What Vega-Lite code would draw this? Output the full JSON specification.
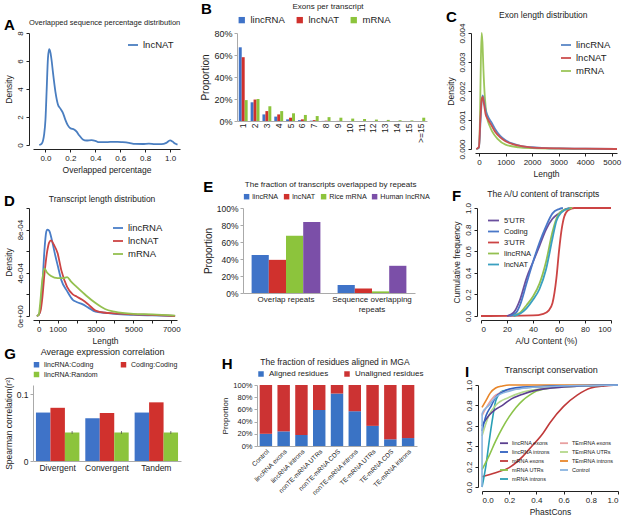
{
  "$schema": "https://vega.github.io/schema/vega-lite/v6.json",
  "background": "white",
  "padding": {"left": 4, "top": 2, "right": 2, "bottom": 0},
  "datasets": {
    "a": [
      {"x": -0.05, "y": 0, "s": "lncNAT"}, {"x": -0.03, "y": 0.1, "s": "lncNAT"}, {"x": -0.01, "y": 0.8, "s": "lncNAT"},
      {"x": 0.0, "y": 1.8, "s": "lncNAT"}, {"x": 0.01, "y": 4.0, "s": "lncNAT"}, {"x": 0.02, "y": 6.2, "s": "lncNAT"},
      {"x": 0.03, "y": 6.85, "s": "lncNAT"}, {"x": 0.04, "y": 6.6, "s": "lncNAT"}, {"x": 0.05, "y": 6.0, "s": "lncNAT"},
      {"x": 0.06, "y": 5.2, "s": "lncNAT"}, {"x": 0.08, "y": 3.8, "s": "lncNAT"}, {"x": 0.1, "y": 2.9, "s": "lncNAT"},
      {"x": 0.12, "y": 2.6, "s": "lncNAT"}, {"x": 0.14, "y": 2.3, "s": "lncNAT"}, {"x": 0.16, "y": 1.8, "s": "lncNAT"},
      {"x": 0.18, "y": 1.4, "s": "lncNAT"}, {"x": 0.2, "y": 1.2, "s": "lncNAT"}, {"x": 0.23, "y": 1.1, "s": "lncNAT"},
      {"x": 0.25, "y": 0.95, "s": "lncNAT"}, {"x": 0.27, "y": 0.7, "s": "lncNAT"}, {"x": 0.3, "y": 0.4, "s": "lncNAT"},
      {"x": 0.33, "y": 0.32, "s": "lncNAT"}, {"x": 0.37, "y": 0.35, "s": "lncNAT"}, {"x": 0.4, "y": 0.3, "s": "lncNAT"},
      {"x": 0.43, "y": 0.2, "s": "lncNAT"}, {"x": 0.47, "y": 0.2, "s": "lncNAT"}, {"x": 0.52, "y": 0.22, "s": "lncNAT"},
      {"x": 0.58, "y": 0.23, "s": "lncNAT"}, {"x": 0.62, "y": 0.2, "s": "lncNAT"}, {"x": 0.67, "y": 0.15, "s": "lncNAT"},
      {"x": 0.72, "y": 0.08, "s": "lncNAT"}, {"x": 0.78, "y": 0.07, "s": "lncNAT"}, {"x": 0.83, "y": 0.1, "s": "lncNAT"},
      {"x": 0.88, "y": 0.06, "s": "lncNAT"}, {"x": 0.93, "y": 0.06, "s": "lncNAT"}, {"x": 0.97, "y": 0.15, "s": "lncNAT"},
      {"x": 1.0, "y": 0.33, "s": "lncNAT"}, {"x": 1.02, "y": 0.25, "s": "lncNAT"}, {"x": 1.04, "y": 0.1, "s": "lncNAT"},
      {"x": 1.06, "y": 0.02, "s": "lncNAT"}
    ],
    "b": [
      {"bin": "1", "series": "lincRNA", "value": 0.67}, {"bin": "1", "series": "lncNAT", "value": 0.58}, {"bin": "1", "series": "mRNA", "value": 0.19},
      {"bin": "2", "series": "lincRNA", "value": 0.17}, {"bin": "2", "series": "lncNAT", "value": 0.195}, {"bin": "2", "series": "mRNA", "value": 0.2},
      {"bin": "3", "series": "lincRNA", "value": 0.06}, {"bin": "3", "series": "lncNAT", "value": 0.09}, {"bin": "3", "series": "mRNA", "value": 0.135},
      {"bin": "4", "series": "lincRNA", "value": 0.04}, {"bin": "4", "series": "lncNAT", "value": 0.06}, {"bin": "4", "series": "mRNA", "value": 0.09},
      {"bin": "5", "series": "lincRNA", "value": 0.015}, {"bin": "5", "series": "lncNAT", "value": 0.03}, {"bin": "5", "series": "mRNA", "value": 0.07},
      {"bin": "6", "series": "lincRNA", "value": 0.008}, {"bin": "6", "series": "lncNAT", "value": 0.015}, {"bin": "6", "series": "mRNA", "value": 0.055},
      {"bin": "7", "series": "lincRNA", "value": 0.003}, {"bin": "7", "series": "lncNAT", "value": 0.008}, {"bin": "7", "series": "mRNA", "value": 0.045},
      {"bin": "8", "series": "lincRNA", "value": 0.001}, {"bin": "8", "series": "lncNAT", "value": 0.003}, {"bin": "8", "series": "mRNA", "value": 0.035},
      {"bin": "9", "series": "lincRNA", "value": 0}, {"bin": "9", "series": "lncNAT", "value": 0.001}, {"bin": "9", "series": "mRNA", "value": 0.03},
      {"bin": "10", "series": "lincRNA", "value": 0}, {"bin": "10", "series": "lncNAT", "value": 0}, {"bin": "10", "series": "mRNA", "value": 0.022},
      {"bin": "11", "series": "lincRNA", "value": 0}, {"bin": "11", "series": "lncNAT", "value": 0}, {"bin": "11", "series": "mRNA", "value": 0.018},
      {"bin": "12", "series": "lincRNA", "value": 0}, {"bin": "12", "series": "lncNAT", "value": 0}, {"bin": "12", "series": "mRNA", "value": 0.013},
      {"bin": "13", "series": "lincRNA", "value": 0}, {"bin": "13", "series": "lncNAT", "value": 0}, {"bin": "13", "series": "mRNA", "value": 0.01},
      {"bin": "14", "series": "lincRNA", "value": 0}, {"bin": "14", "series": "lncNAT", "value": 0}, {"bin": "14", "series": "mRNA", "value": 0.007},
      {"bin": "15", "series": "lincRNA", "value": 0}, {"bin": "15", "series": "lncNAT", "value": 0}, {"bin": "15", "series": "mRNA", "value": 0.005},
      {"bin": ">=15", "series": "lincRNA", "value": 0}, {"bin": ">=15", "series": "lncNAT", "value": 0}, {"bin": ">=15", "series": "mRNA", "value": 0.03}
    ],
    "c": [
      {"x": -100, "y": 0, "s": "mRNA"}, {"x": 0, "y": 0.00005, "s": "mRNA"}, {"x": 40, "y": 0.0012, "s": "mRNA"},
      {"x": 70, "y": 0.003, "s": "mRNA"}, {"x": 100, "y": 0.004, "s": "mRNA"}, {"x": 130, "y": 0.0037, "s": "mRNA"},
      {"x": 170, "y": 0.0027, "s": "mRNA"}, {"x": 220, "y": 0.0018, "s": "mRNA"}, {"x": 300, "y": 0.0011, "s": "mRNA"},
      {"x": 400, "y": 0.0008, "s": "mRNA"}, {"x": 500, "y": 0.0006, "s": "mRNA"}, {"x": 700, "y": 0.00035, "s": "mRNA"},
      {"x": 1000, "y": 0.00015, "s": "mRNA"}, {"x": 1500, "y": 0.00006, "s": "mRNA"}, {"x": 2000, "y": 0.00003, "s": "mRNA"},
      {"x": 3000, "y": 0.00001, "s": "mRNA"}, {"x": 4000, "y": 0.000005, "s": "mRNA"}, {"x": 5200, "y": 0, "s": "mRNA"},
      {"x": -100, "y": 0, "s": "lincRNA"}, {"x": 0, "y": 0.00005, "s": "lincRNA"}, {"x": 50, "y": 0.0008, "s": "lincRNA"},
      {"x": 100, "y": 0.0016, "s": "lincRNA"}, {"x": 140, "y": 0.00185, "s": "lincRNA"}, {"x": 180, "y": 0.0017, "s": "lincRNA"},
      {"x": 250, "y": 0.00135, "s": "lincRNA"}, {"x": 350, "y": 0.0011, "s": "lincRNA"}, {"x": 450, "y": 0.00095, "s": "lincRNA"},
      {"x": 600, "y": 0.0007, "s": "lincRNA"}, {"x": 800, "y": 0.00045, "s": "lincRNA"}, {"x": 1000, "y": 0.0003, "s": "lincRNA"},
      {"x": 1300, "y": 0.00018, "s": "lincRNA"}, {"x": 1600, "y": 0.0001, "s": "lincRNA"}, {"x": 2000, "y": 0.00006, "s": "lincRNA"},
      {"x": 2500, "y": 0.00003, "s": "lincRNA"}, {"x": 3000, "y": 0.00002, "s": "lincRNA"}, {"x": 4000, "y": 0.00001, "s": "lincRNA"},
      {"x": 5200, "y": 0, "s": "lincRNA"},
      {"x": -100, "y": 0, "s": "lncNAT"}, {"x": 0, "y": 0.00008, "s": "lncNAT"}, {"x": 50, "y": 0.001, "s": "lncNAT"},
      {"x": 100, "y": 0.0017, "s": "lncNAT"}, {"x": 140, "y": 0.0018, "s": "lncNAT"}, {"x": 180, "y": 0.0016, "s": "lncNAT"},
      {"x": 250, "y": 0.0012, "s": "lncNAT"}, {"x": 350, "y": 0.001, "s": "lncNAT"}, {"x": 450, "y": 0.00085, "s": "lncNAT"},
      {"x": 600, "y": 0.0006, "s": "lncNAT"}, {"x": 800, "y": 0.0004, "s": "lncNAT"}, {"x": 1000, "y": 0.00027, "s": "lncNAT"},
      {"x": 1300, "y": 0.00016, "s": "lncNAT"}, {"x": 1600, "y": 0.0001, "s": "lncNAT"}, {"x": 2000, "y": 0.00005, "s": "lncNAT"},
      {"x": 2500, "y": 0.00003, "s": "lncNAT"}, {"x": 3000, "y": 0.00002, "s": "lncNAT"}, {"x": 4000, "y": 0.00001, "s": "lncNAT"},
      {"x": 5200, "y": 0, "s": "lncNAT"}
    ],
    "d": [
      {"x": -100, "y": 0, "s": "lincRNA"}, {"x": 0, "y": 0.00001, "s": "lincRNA"}, {"x": 100, "y": 0.00008, "s": "lincRNA"},
      {"x": 200, "y": 0.0003, "s": "lincRNA"}, {"x": 300, "y": 0.0006, "s": "lincRNA"}, {"x": 400, "y": 0.00078, "s": "lincRNA"},
      {"x": 450, "y": 0.0008, "s": "lincRNA"}, {"x": 550, "y": 0.00079, "s": "lincRNA"}, {"x": 700, "y": 0.0007, "s": "lincRNA"},
      {"x": 850, "y": 0.00058, "s": "lincRNA"}, {"x": 1000, "y": 0.00047, "s": "lincRNA"}, {"x": 1200, "y": 0.00033, "s": "lincRNA"},
      {"x": 1500, "y": 0.00023, "s": "lincRNA"}, {"x": 1800, "y": 0.00015, "s": "lincRNA"}, {"x": 2000, "y": 0.00013, "s": "lincRNA"},
      {"x": 2300, "y": 0.00011, "s": "lincRNA"}, {"x": 2600, "y": 0.00008, "s": "lincRNA"}, {"x": 3000, "y": 0.00004, "s": "lincRNA"},
      {"x": 3500, "y": 0.00003, "s": "lincRNA"}, {"x": 4000, "y": 0.00002, "s": "lincRNA"}, {"x": 5000, "y": 0.00001, "s": "lincRNA"},
      {"x": 6000, "y": 0.000005, "s": "lincRNA"}, {"x": 7200, "y": 0, "s": "lincRNA"},
      {"x": -100, "y": 0, "s": "lncNAT"}, {"x": 0, "y": 0.00001, "s": "lncNAT"}, {"x": 100, "y": 0.00005, "s": "lncNAT"},
      {"x": 200, "y": 0.00018, "s": "lncNAT"}, {"x": 300, "y": 0.00038, "s": "lncNAT"}, {"x": 450, "y": 0.0006, "s": "lncNAT"},
      {"x": 550, "y": 0.00068, "s": "lncNAT"}, {"x": 650, "y": 0.0007, "s": "lncNAT"}, {"x": 800, "y": 0.00066, "s": "lncNAT"},
      {"x": 1000, "y": 0.00058, "s": "lncNAT"}, {"x": 1200, "y": 0.00042, "s": "lncNAT"}, {"x": 1500, "y": 0.00027, "s": "lncNAT"},
      {"x": 1800, "y": 0.0002, "s": "lncNAT"}, {"x": 2000, "y": 0.00018, "s": "lncNAT"}, {"x": 2300, "y": 0.00015, "s": "lncNAT"},
      {"x": 2600, "y": 0.00011, "s": "lncNAT"}, {"x": 3000, "y": 0.00005, "s": "lncNAT"}, {"x": 3500, "y": 0.00003, "s": "lncNAT"},
      {"x": 4000, "y": 0.000025, "s": "lncNAT"}, {"x": 5000, "y": 0.000015, "s": "lncNAT"}, {"x": 6000, "y": 0.00001, "s": "lncNAT"},
      {"x": 7200, "y": 0, "s": "lncNAT"},
      {"x": -100, "y": 0, "s": "mRNA"}, {"x": 0, "y": 0.00001, "s": "mRNA"}, {"x": 80, "y": 0.00012, "s": "mRNA"},
      {"x": 170, "y": 0.0003, "s": "mRNA"}, {"x": 300, "y": 0.00044, "s": "mRNA"}, {"x": 450, "y": 0.0004, "s": "mRNA"},
      {"x": 650, "y": 0.00037, "s": "mRNA"}, {"x": 1000, "y": 0.00035, "s": "mRNA"}, {"x": 1300, "y": 0.00035, "s": "mRNA"},
      {"x": 1500, "y": 0.00036, "s": "mRNA"}, {"x": 1700, "y": 0.00032, "s": "mRNA"}, {"x": 2000, "y": 0.00027, "s": "mRNA"},
      {"x": 2500, "y": 0.00019, "s": "mRNA"}, {"x": 3000, "y": 0.00012, "s": "mRNA"}, {"x": 3500, "y": 0.000065, "s": "mRNA"},
      {"x": 4000, "y": 0.00004, "s": "mRNA"}, {"x": 5000, "y": 0.00002, "s": "mRNA"}, {"x": 6000, "y": 0.000015, "s": "mRNA"},
      {"x": 7200, "y": 0.000003, "s": "mRNA"}
    ],
    "e": [
      {"cat": "Overlap repeats", "series": "lincRNA", "value": 0.447}, {"cat": "Overlap repeats", "series": "lncNAT", "value": 0.39},
      {"cat": "Overlap repeats", "series": "Rice mRNA", "value": 0.675}, {"cat": "Overlap repeats", "series": "Human lncRNA", "value": 0.836},
      {"cat": "Sequence overlapping repeats", "series": "lincRNA", "value": 0.095}, {"cat": "Sequence overlapping repeats", "series": "lncNAT", "value": 0.053},
      {"cat": "Sequence overlapping repeats", "series": "Rice mRNA", "value": 0.019}, {"cat": "Sequence overlapping repeats", "series": "Human lncRNA", "value": 0.32}
    ],
    "f": [
      {"x": 0, "y": 0, "s": "3'UTR"}, {"x": 40, "y": 0.005, "s": "3'UTR"}, {"x": 48, "y": 0.02, "s": "3'UTR"},
      {"x": 52, "y": 0.05, "s": "3'UTR"}, {"x": 55, "y": 0.12, "s": "3'UTR"}, {"x": 58, "y": 0.35, "s": "3'UTR"},
      {"x": 60, "y": 0.6, "s": "3'UTR"}, {"x": 62, "y": 0.8, "s": "3'UTR"}, {"x": 64, "y": 0.92, "s": "3'UTR"},
      {"x": 67, "y": 0.98, "s": "3'UTR"}, {"x": 72, "y": 1.0, "s": "3'UTR"}, {"x": 100, "y": 1.0, "s": "3'UTR"},
      {"x": 20, "y": 0, "s": "5'UTR"}, {"x": 25, "y": 0.03, "s": "5'UTR"}, {"x": 30, "y": 0.15, "s": "5'UTR"},
      {"x": 35, "y": 0.35, "s": "5'UTR"}, {"x": 40, "y": 0.5, "s": "5'UTR"}, {"x": 45, "y": 0.65, "s": "5'UTR"},
      {"x": 50, "y": 0.8, "s": "5'UTR"}, {"x": 55, "y": 0.9, "s": "5'UTR"}, {"x": 60, "y": 0.95, "s": "5'UTR"},
      {"x": 65, "y": 0.99, "s": "5'UTR"}, {"x": 70, "y": 1.0, "s": "5'UTR"},
      {"x": 22, "y": 0, "s": "Coding"}, {"x": 27, "y": 0.03, "s": "Coding"}, {"x": 30, "y": 0.1, "s": "Coding"},
      {"x": 35, "y": 0.3, "s": "Coding"}, {"x": 40, "y": 0.5, "s": "Coding"}, {"x": 45, "y": 0.68, "s": "Coding"},
      {"x": 50, "y": 0.83, "s": "Coding"}, {"x": 55, "y": 0.95, "s": "Coding"}, {"x": 60, "y": 0.99, "s": "Coding"},
      {"x": 63, "y": 1.0, "s": "Coding"},
      {"x": 25, "y": 0, "s": "lincRNA"}, {"x": 30, "y": 0.03, "s": "lincRNA"}, {"x": 35, "y": 0.1, "s": "lincRNA"},
      {"x": 40, "y": 0.18, "s": "lincRNA"}, {"x": 45, "y": 0.3, "s": "lincRNA"}, {"x": 50, "y": 0.5, "s": "lincRNA"},
      {"x": 55, "y": 0.78, "s": "lincRNA"}, {"x": 58, "y": 0.9, "s": "lincRNA"}, {"x": 62, "y": 0.97, "s": "lincRNA"},
      {"x": 70, "y": 1.0, "s": "lincRNA"},
      {"x": 25, "y": 0, "s": "lncNAT"}, {"x": 30, "y": 0.02, "s": "lncNAT"}, {"x": 35, "y": 0.07, "s": "lncNAT"},
      {"x": 40, "y": 0.15, "s": "lncNAT"}, {"x": 45, "y": 0.25, "s": "lncNAT"}, {"x": 50, "y": 0.43, "s": "lncNAT"},
      {"x": 55, "y": 0.72, "s": "lncNAT"}, {"x": 58, "y": 0.88, "s": "lncNAT"}, {"x": 62, "y": 0.96, "s": "lncNAT"},
      {"x": 68, "y": 1.0, "s": "lncNAT"}
    ],
    "g": [
      {"cat": "Divergent", "series": "lincRNA:Coding", "value": 0.102}, {"cat": "Divergent", "series": "Coding:Coding", "value": 0.112},
      {"cat": "Divergent", "series": "lincRNA:Random", "value": 0.06, "lo": 0.057, "hi": 0.063},
      {"cat": "Convergent", "series": "lincRNA:Coding", "value": 0.09}, {"cat": "Convergent", "series": "Coding:Coding", "value": 0.101},
      {"cat": "Convergent", "series": "lincRNA:Random", "value": 0.06, "lo": 0.057, "hi": 0.063},
      {"cat": "Tandem", "series": "lincRNA:Coding", "value": 0.102}, {"cat": "Tandem", "series": "Coding:Coding", "value": 0.1235},
      {"cat": "Tandem", "series": "lincRNA:Random", "value": 0.06, "lo": 0.057, "hi": 0.063}
    ],
    "h": [
      {"cat": "Control", "type": "Aligned residues", "value": 0.2}, {"cat": "Control", "type": "Unaligned residues", "value": 0.8},
      {"cat": "lincRNA exons", "type": "Aligned residues", "value": 0.24}, {"cat": "lincRNA exons", "type": "Unaligned residues", "value": 0.76},
      {"cat": "lincRNA introns", "type": "Aligned residues", "value": 0.18}, {"cat": "lincRNA introns", "type": "Unaligned residues", "value": 0.82},
      {"cat": "nonTE-mRNA UTRs", "type": "Aligned residues", "value": 0.59}, {"cat": "nonTE-mRNA UTRs", "type": "Unaligned residues", "value": 0.41},
      {"cat": "nonTE-mRNA CDS", "type": "Aligned residues", "value": 0.86}, {"cat": "nonTE-mRNA CDS", "type": "Unaligned residues", "value": 0.14},
      {"cat": "nonTE-mRNA introns", "type": "Aligned residues", "value": 0.57}, {"cat": "nonTE-mRNA introns", "type": "Unaligned residues", "value": 0.43},
      {"cat": "TE-mRNA UTRs", "type": "Aligned residues", "value": 0.33}, {"cat": "TE-mRNA UTRs", "type": "Unaligned residues", "value": 0.67},
      {"cat": "TE-mRNA CDS", "type": "Aligned residues", "value": 0.11}, {"cat": "TE-mRNA CDS", "type": "Unaligned residues", "value": 0.89},
      {"cat": "TE-mRNA introns", "type": "Aligned residues", "value": 0.13}, {"cat": "TE-mRNA introns", "type": "Unaligned residues", "value": 0.87}
    ],
    "i": [
      {"x": 0, "y": 0.1, "s": "mRNA exons"}, {"x": 0.1, "y": 0.14, "s": "mRNA exons"}, {"x": 0.2, "y": 0.19, "s": "mRNA exons"},
      {"x": 0.3, "y": 0.3, "s": "mRNA exons"}, {"x": 0.36, "y": 0.39, "s": "mRNA exons"}, {"x": 0.45, "y": 0.53, "s": "mRNA exons"},
      {"x": 0.5, "y": 0.63, "s": "mRNA exons"}, {"x": 0.6, "y": 0.79, "s": "mRNA exons"}, {"x": 0.7, "y": 0.9, "s": "mRNA exons"},
      {"x": 0.8, "y": 0.97, "s": "mRNA exons"}, {"x": 0.9, "y": 0.99, "s": "mRNA exons"}, {"x": 1.0, "y": 1.0, "s": "mRNA exons"},
      {"x": 0, "y": 0.0, "s": "mRNA introns"}, {"x": 0.012, "y": 0.08, "s": "mRNA introns"}, {"x": 0.03, "y": 0.22, "s": "mRNA introns"},
      {"x": 0.05, "y": 0.42, "s": "mRNA introns"}, {"x": 0.075, "y": 0.65, "s": "mRNA introns"}, {"x": 0.1, "y": 0.84, "s": "mRNA introns"},
      {"x": 0.12, "y": 0.9, "s": "mRNA introns"}, {"x": 0.15, "y": 0.94, "s": "mRNA introns"}, {"x": 0.3, "y": 0.97, "s": "mRNA introns"},
      {"x": 0.6, "y": 0.99, "s": "mRNA introns"}, {"x": 1.0, "y": 1.0, "s": "mRNA introns"},
      {"x": 0, "y": 0.17, "s": "mRNA UTRs"}, {"x": 0.05, "y": 0.3, "s": "mRNA UTRs"}, {"x": 0.1, "y": 0.45, "s": "mRNA UTRs"},
      {"x": 0.15, "y": 0.58, "s": "mRNA UTRs"}, {"x": 0.2, "y": 0.69, "s": "mRNA UTRs"}, {"x": 0.25, "y": 0.78, "s": "mRNA UTRs"},
      {"x": 0.3, "y": 0.85, "s": "mRNA UTRs"}, {"x": 0.35, "y": 0.9, "s": "mRNA UTRs"}, {"x": 0.4, "y": 0.94, "s": "mRNA UTRs"},
      {"x": 0.5, "y": 0.97, "s": "mRNA UTRs"}, {"x": 0.7, "y": 0.99, "s": "mRNA UTRs"}, {"x": 1.0, "y": 1.0, "s": "mRNA UTRs"},
      {"x": 0, "y": 0.78, "s": "TEmRNA introns"}, {"x": 0.03, "y": 0.85, "s": "TEmRNA introns"}, {"x": 0.06, "y": 0.92, "s": "TEmRNA introns"},
      {"x": 0.1, "y": 0.97, "s": "TEmRNA introns"}, {"x": 0.15, "y": 0.99, "s": "TEmRNA introns"}, {"x": 0.2, "y": 1.0, "s": "TEmRNA introns"},
      {"x": 1.0, "y": 1.0, "s": "TEmRNA introns"},
      {"x": 0, "y": 0.7, "s": "TEmRNA exons"}, {"x": 0.05, "y": 0.82, "s": "TEmRNA exons"}, {"x": 0.1, "y": 0.9, "s": "TEmRNA exons"},
      {"x": 0.2, "y": 0.95, "s": "TEmRNA exons"}, {"x": 0.4, "y": 0.98, "s": "TEmRNA exons"}, {"x": 1.0, "y": 1.0, "s": "TEmRNA exons"},
      {"x": 0, "y": 0.5, "s": "TEmRNA UTRs"}, {"x": 0.05, "y": 0.7, "s": "TEmRNA UTRs"}, {"x": 0.1, "y": 0.8, "s": "TEmRNA UTRs"},
      {"x": 0.2, "y": 0.88, "s": "TEmRNA UTRs"}, {"x": 0.3, "y": 0.93, "s": "TEmRNA UTRs"}, {"x": 0.5, "y": 0.97, "s": "TEmRNA UTRs"},
      {"x": 1.0, "y": 1.0, "s": "TEmRNA UTRs"},
      {"x": 0, "y": 0.6, "s": "lincRNA exons"}, {"x": 0.05, "y": 0.7, "s": "lincRNA exons"}, {"x": 0.1, "y": 0.76, "s": "lincRNA exons"},
      {"x": 0.15, "y": 0.8, "s": "lincRNA exons"}, {"x": 0.2, "y": 0.85, "s": "lincRNA exons"}, {"x": 0.3, "y": 0.91, "s": "lincRNA exons"},
      {"x": 0.4, "y": 0.95, "s": "lincRNA exons"}, {"x": 0.6, "y": 0.98, "s": "lincRNA exons"}, {"x": 1.0, "y": 1.0, "s": "lincRNA exons"},
      {"x": 0, "y": 0.55, "s": "lincRNA introns"}, {"x": 0.03, "y": 0.7, "s": "lincRNA introns"}, {"x": 0.07, "y": 0.8, "s": "lincRNA introns"},
      {"x": 0.1, "y": 0.88, "s": "lincRNA introns"}, {"x": 0.15, "y": 0.93, "s": "lincRNA introns"}, {"x": 0.2, "y": 0.96, "s": "lincRNA introns"},
      {"x": 0.3, "y": 0.98, "s": "lincRNA introns"}, {"x": 1.0, "y": 1.0, "s": "lincRNA introns"},
      {"x": 0, "y": 0.0, "s": "Control"}, {"x": 0.001, "y": 0.72, "s": "Control"}, {"x": 0.05, "y": 0.8, "s": "Control"},
      {"x": 0.1, "y": 0.88, "s": "Control"}, {"x": 0.2, "y": 0.94, "s": "Control"}, {"x": 0.4, "y": 0.98, "s": "Control"},
      {"x": 1.0, "y": 1.0, "s": "Control"}
    ]
  },
  "config": {
    "font": "Liberation Sans",
    "view": {"stroke": null},
    "axis": {"grid": false, "labelFontSize": 8, "titleFontSize": 8.5, "titleFontWeight": "normal", "labelColor": "#222", "titleColor": "#222", "domainColor": "#222", "tickColor": "#222", "tickSize": 3, "titlePadding": 3},
    "legend": {"labelFontSize": 8.5, "padding": 0, "labelColor": "#222"},
    "title": {"fontSize": 8.5, "fontWeight": "normal", "color": "#222", "offset": 3, "anchor": "middle"},
    "line": {"strokeWidth": 1.8, "interpolate": "monotone"}
  },
  "resolve": {"scale": {"color": "independent", "xOffset": "independent"}, "legend": {"color": "independent"}},
  "vconcat": [
    {
      "resolve": {"scale": {"color": "independent", "xOffset": "independent"}, "legend": {"color": "independent"}},
      "hconcat": [
        {
          "title": {"text": "A", "anchor": "start", "fontSize": 15, "fontWeight": "bold", "color": "#000", "offset": -14},
          "resolve": {"scale": {"color": "independent"}, "legend": {"color": "independent"}},
          "vconcat": [{
            "title": {"text": "Overlapped sequence percentage distribution", "anchor": "middle", "fontSize": 7.5, "dx": 12, "offset": 4},
            "resolve": {"scale": {"color": "independent"}, "legend": {"color": "independent"}},
            "vconcat": [{
              "width": 147, "height": 112,
              "data": {"name": "a"},
              "mark": "line",
              "encoding": {
                "x": {"field": "x", "type": "quantitative", "scale": {"domain": [-0.1, 1.08], "nice": false}, "axis": {"values": [0, 0.2, 0.4, 0.6, 0.8, 1], "format": ".1f", "title": "Overlapped percentage", "offset": 4}},
                "y": {"field": "y", "type": "quantitative", "scale": {"domain": [0, 8], "nice": false}, "axis": {"values": [0, 2, 4, 6, 8], "labelAngle": -90, "title": "Density", "offset": 4}},
                "color": {"field": "s", "type": "nominal", "scale": {"domain": ["lncNAT"], "range": ["#4a7ec0"]}, "legend": {"orient": "top-right", "title": null, "symbolType": "stroke", "symbolStrokeWidth": 2, "labelFontSize": 9.5, "offset": 6}}
              }
            }]
          }]
        },
        {
          "title": {"text": "B", "anchor": "start", "fontSize": 15, "fontWeight": "bold", "color": "#000", "offset": -14},
          "resolve": {"scale": {"color": "independent", "xOffset": "independent"}, "legend": {"color": "independent"}},
          "vconcat": [{
            "title": {"text": "Exons per transcript", "fontSize": 8, "anchor": "middle", "offset": 4, "dx": 14},
            "resolve": {"scale": {"color": "independent", "xOffset": "independent"}, "legend": {"color": "independent"}},
            "vconcat": [{
              "width": 190, "height": 88,
              "data": {"name": "b"},
              "mark": "bar",
              "encoding": {
                "x": {"field": "bin", "type": "ordinal", "sort": null, "scale": {"paddingInner": 0.25, "paddingOuter": 0.15}, "axis": {"title": null, "labelAngle": -90, "ticks": false, "domainColor": "#aaa", "labelFontSize": 8.5}},
                "xOffset": {"field": "series", "type": "nominal", "sort": ["lincRNA", "lncNAT", "mRNA"]},
                "y": {"field": "value", "type": "quantitative", "scale": {"domain": [0, 0.8]}, "axis": {"format": ".0%", "values": [0, 0.2, 0.4, 0.6, 0.8], "title": "Proportion", "domainColor": "#aaa", "tickColor": "#aaa", "labelFontSize": 9, "titleFontSize": 10}},
                "color": {"field": "series", "type": "nominal", "scale": {"domain": ["lincRNA", "lncNAT", "mRNA"], "range": ["#3f73c8", "#d0312d", "#8cc43c"]}, "legend": {"orient": "top", "title": null, "symbolType": "square", "symbolSize": 40, "labelFontSize": 9.5, "offset": 8}}
              }
            }]
          }]
        },
        {
          "title": {"text": "C", "anchor": "start", "fontSize": 15, "fontWeight": "bold", "color": "#000", "offset": -14},
          "resolve": {"scale": {"color": "independent"}, "legend": {"color": "independent"}},
          "vconcat": [{
            "title": {"text": "Exon length distribution", "anchor": "middle", "offset": 3, "dx": 10},
            "resolve": {"scale": {"color": "independent"}, "legend": {"color": "independent"}},
            "vconcat": [{
              "width": 142, "height": 116,
              "data": {"name": "c"},
              "mark": "line",
              "encoding": {
                "x": {"field": "x", "type": "quantitative", "scale": {"domain": [-150, 5200], "nice": false}, "axis": {"values": [0, 1000, 2000, 3000, 4000, 5000], "format": "d", "title": "Length", "offset": 4}},
                "y": {"field": "y", "type": "quantitative", "scale": {"domain": [0, 0.004], "nice": false}, "axis": {"values": [0, 0.001, 0.002, 0.003, 0.004], "format": ".3f", "labelAngle": -90, "title": "Density", "offset": 4}},
                "color": {"field": "s", "type": "nominal", "scale": {"domain": ["lincRNA", "lncNAT", "mRNA"], "range": ["#5a86c6", "#cc4f4f", "#9cc65a"]}, "legend": {"orient": "top-right", "title": null, "symbolType": "stroke", "symbolStrokeWidth": 2, "labelFontSize": 9.5, "offset": 6}}
              }
            }]
          }]
        }
      ],
      "spacing": 18
    },
    {
      "resolve": {"scale": {"color": "independent", "xOffset": "independent"}, "legend": {"color": "independent"}},
      "hconcat": [
        {
          "title": {"text": "D", "anchor": "start", "fontSize": 15, "fontWeight": "bold", "color": "#000", "offset": -14},
          "resolve": {"scale": {"color": "independent"}, "legend": {"color": "independent"}},
          "vconcat": [{
            "title": {"text": "Transcript length distribution", "anchor": "middle", "offset": 4, "dx": 10},
            "resolve": {"scale": {"color": "independent"}, "legend": {"color": "independent"}},
            "vconcat": [{
              "width": 144, "height": 108,
              "data": {"name": "d"},
              "mark": "line",
              "encoding": {
                "x": {"field": "x", "type": "quantitative", "scale": {"domain": [-300, 7300], "nice": false}, "axis": {"values": [0, 1000, 2000, 3000, 4000, 5000, 6000, 7000], "labelExpr": "datum.value == 2000 || datum.value == 4000 || datum.value == 6000 ? '' : datum.value", "title": "Length", "offset": 4}},
                "y": {"field": "y", "type": "quantitative", "scale": {"domain": [0, 0.001], "nice": false}, "axis": {"values": [0, 0.0002, 0.0004, 0.0006, 0.0008, 0.001], "labelExpr": "datum.value == 0 ? '0e+00' : datum.value == 0.0004 ? '4e-04' : datum.value == 0.0008 ? '8e-04' : ''", "labelAngle": -90, "title": "Density", "offset": 4}},
                "color": {"field": "s", "type": "nominal", "scale": {"domain": ["lincRNA", "lncNAT", "mRNA"], "range": ["#4a7ec8", "#cc4444", "#94c050"]}, "legend": {"orient": "top-right", "title": null, "symbolType": "stroke", "symbolStrokeWidth": 2, "labelFontSize": 9.5, "offset": 14}}
              }
            }]
          }]
        },
        {
          "title": {"text": "E", "anchor": "start", "fontSize": 15, "fontWeight": "bold", "color": "#000", "offset": -14},
          "resolve": {"scale": {"color": "independent", "xOffset": "independent"}, "legend": {"color": "independent"}},
          "vconcat": [{
            "title": {"text": "The fraction of transcripts overlapped by repeats", "fontSize": 8, "anchor": "middle", "offset": 4, "dx": 14},
            "resolve": {"scale": {"color": "independent", "xOffset": "independent"}, "legend": {"color": "independent"}},
            "vconcat": [{
              "width": 172, "height": 85,
              "data": {"name": "e"},
              "mark": "bar",
              "encoding": {
                "x": {"field": "cat", "type": "nominal", "sort": null, "scale": {"paddingInner": 0.2, "paddingOuter": 0.1}, "axis": {"title": null, "labelAngle": 0, "ticks": false, "domainColor": "#aaa", "labelFontSize": 8, "labelExpr": "datum.label == 'Sequence overlapping repeats' ? ['Sequence overlapping', 'repeats'] : datum.label"}},
                "xOffset": {"field": "series", "type": "nominal", "sort": ["lincRNA", "lncNAT", "Rice mRNA", "Human lncRNA"]},
                "y": {"field": "value", "type": "quantitative", "scale": {"domain": [0, 1]}, "axis": {"format": ".0%", "values": [0, 0.2, 0.4, 0.6, 0.8, 1], "title": "Proportion", "domainColor": "#aaa", "tickColor": "#aaa", "labelFontSize": 8.5, "titleFontSize": 10}},
                "color": {"field": "series", "type": "nominal", "scale": {"domain": ["lincRNA", "lncNAT", "Rice mRNA", "Human lncRNA"], "range": ["#3f73c8", "#d0312d", "#8cc43c", "#7b4fa8"]}, "legend": {"orient": "top", "title": null, "symbolType": "square", "symbolSize": 30, "labelFontSize": 7.2, "columnPadding": 4, "labelOffset": 2, "offset": 8}}
              }
            }]
          }]
        },
        {
          "title": {"text": "F", "anchor": "start", "fontSize": 15, "fontWeight": "bold", "color": "#000", "offset": -14},
          "resolve": {"scale": {"color": "independent"}, "legend": {"color": "independent"}},
          "vconcat": [{
            "title": {"text": "The A/U content of transcripts", "anchor": "middle", "offset": 4, "dx": 10},
            "resolve": {"scale": {"color": "independent"}, "legend": {"color": "independent"}},
            "vconcat": [{
              "width": 130, "height": 108,
              "data": {"name": "f"},
              "mark": "line",
              "encoding": {
                "x": {"field": "x", "type": "quantitative", "scale": {"domain": [0, 100], "nice": false}, "axis": {"values": [0, 20, 40, 60, 80, 100], "title": "A/U Content (%)", "offset": 4}},
                "y": {"field": "y", "type": "quantitative", "scale": {"domain": [0, 1], "nice": false}, "axis": {"values": [0, 0.2, 0.4, 0.6, 0.8, 1], "format": ".1f", "labelAngle": -90, "title": "Cumulative frequency", "offset": 4}},
                "color": {"field": "s", "type": "nominal", "scale": {"domain": ["5'UTR", "Coding", "3'UTR", "lincRNA", "lncNAT"], "range": ["#6a4f9e", "#4a78c8", "#cc4444", "#94c050", "#3aa0c0"]}, "legend": {"orient": "top-left", "title": null, "symbolType": "stroke", "symbolStrokeWidth": 2, "symbolSize": 120, "labelFontSize": 7.5, "rowPadding": 0, "offset": 6}}
              }
            }]
          }]
        }
      ],
      "spacing": 22
    },
    {
      "resolve": {"scale": {"color": "independent", "xOffset": "independent"}, "legend": {"color": "independent"}},
      "hconcat": [
        {
          "title": {"text": "G", "anchor": "start", "fontSize": 15, "fontWeight": "bold", "color": "#000", "offset": -14},
          "resolve": {"scale": {"color": "independent", "xOffset": "independent"}, "legend": {"color": "independent"}},
          "vconcat": [{
            "title": {"text": "Average expression correlation", "fontSize": 9, "anchor": "middle", "offset": 4, "dx": 10},
            "resolve": {"scale": {"color": "independent", "xOffset": "independent"}, "legend": {"color": "independent"}},
            "vconcat": [{
              "width": 148, "height": 76,
              "data": {"name": "g"},
              "encoding": {
                "x": {"field": "cat", "type": "nominal", "sort": null, "scale": {"paddingInner": 0.12, "paddingOuter": 0.06}, "axis": {"title": null, "labelAngle": 0, "ticks": false, "domainColor": "#aaa", "labelFontSize": 8.5}},
                "xOffset": {"field": "series", "type": "nominal", "sort": ["lincRNA:Coding", "Coding:Coding", "lincRNA:Random"]}
              },
              "layer": [
                {
                  "mark": "bar",
                  "encoding": {
                    "y": {"field": "value", "type": "quantitative", "scale": {"domain": [0, 0.14]}, "axis": {"format": "~g", "values": [0, 0.02, 0.04, 0.06, 0.08, 0.1, 0.12, 0.14], "title": "Spearman correlation(r²)", "domainColor": "#aaa", "tickColor": "#aaa", "labelFontSize": 8.5, "titleFontSize": 8.5}},
                    "color": {"field": "series", "type": "nominal", "scale": {"domain": ["lincRNA:Coding", "Coding:Coding", "lincRNA:Random"], "range": ["#3f73c8", "#d0312d", "#8cc43c"]}, "legend": {"orient": "top", "title": null, "symbolType": "square", "symbolSize": 30, "labelFontSize": 7, "columns": 2, "columnPadding": 22, "rowPadding": 2, "offset": 7}}
                  }
                },
                {
                  "mark": {"type": "rule", "color": "#555", "strokeWidth": 0.8},
                  "encoding": {
                    "y": {"field": "lo", "type": "quantitative"},
                    "y2": {"field": "hi"}
                  }
                }
              ]
            }]
          }]
        },
        {
          "title": {"text": "H", "anchor": "start", "fontSize": 15, "fontWeight": "bold", "color": "#000", "offset": -14},
          "resolve": {"scale": {"color": "independent"}, "legend": {"color": "independent"}},
          "vconcat": [{
            "title": {"text": "The fraction of residues aligned in MGA", "fontSize": 8.5, "anchor": "middle", "offset": 4, "dx": 12},
            "resolve": {"scale": {"color": "independent"}, "legend": {"color": "independent"}},
            "vconcat": [{
              "width": 160, "height": 61,
              "data": {"name": "h"},
              "mark": "bar",
              "encoding": {
                "x": {"field": "cat", "type": "nominal", "sort": null, "scale": {"paddingInner": 0.3, "paddingOuter": 0.15}, "axis": {"title": null, "labelAngle": -45, "ticks": false, "domainColor": "#aaa", "labelFontSize": 6.5}},
                "y": {"field": "value", "type": "quantitative", "stack": "zero", "scale": {"domain": [0, 1]}, "axis": {"format": ".0%", "values": [0, 0.2, 0.4, 0.6, 0.8, 1], "title": "Proportion", "domainColor": "#aaa", "tickColor": "#aaa", "labelFontSize": 7.5, "titleFontSize": 8}},
                "color": {"field": "type", "type": "nominal", "scale": {"domain": ["Aligned residues", "Unaligned residues"], "range": ["#3a73c5", "#cc3333"]}, "legend": {"orient": "top", "title": null, "symbolType": "square", "symbolSize": 30, "labelFontSize": 8, "columnPadding": 14, "offset": 7}},
                "order": {"field": "type", "sort": "ascending"}
              }
            }]
          }]
        },
        {
          "title": {"text": "I", "anchor": "start", "fontSize": 15, "fontWeight": "bold", "color": "#000", "offset": -14},
          "resolve": {"scale": {"color": "independent"}, "legend": {"color": "independent"}},
          "vconcat": [{
            "title": {"text": "Transcript conservation", "fontSize": 9, "anchor": "middle", "offset": 4, "dx": 8},
            "resolve": {"scale": {"color": "independent"}, "legend": {"color": "independent"}},
            "vconcat": [{
              "width": 136, "height": 102,
              "data": {"name": "i"},
              "mark": {"type": "line", "strokeWidth": 1.6},
              "encoding": {
                "x": {"field": "x", "type": "quantitative", "scale": {"domain": [0, 1], "nice": false}, "axis": {"values": [0, 0.2, 0.4, 0.6, 0.8, 1], "format": ".1f", "title": "PhastCons", "offset": 4}},
                "y": {"field": "y", "type": "quantitative", "scale": {"domain": [0, 1], "nice": false}, "axis": {"values": [0, 0.2, 0.4, 0.6, 0.8, 1], "format": ".1f", "labelAngle": -90, "title": null, "offset": 4}},
                "color": {"field": "s", "type": "nominal", "scale": {"domain": ["lincRNA exons", "lincRNA introns", "mRNA exons", "mRNA UTRs", "mRNA introns", "TEmRNA exons", "TEmRNA UTRs", "TEmRNA introns", "Control"], "range": ["#5b3f8f", "#3060c0", "#c03a3a", "#8bc34a", "#2a9fb5", "#e8a0a0", "#b5d98c", "#e8862a", "#8ab4e0"]}, "legend": {"orient": "bottom-right", "title": null, "columns": 2, "symbolType": "stroke", "symbolStrokeWidth": 2, "symbolSize": 64, "labelFontSize": 5.5, "rowPadding": 0, "columnPadding": 6, "labelOffset": 3, "offset": 4}}
              }
            }]
          }]
        }
      ],
      "spacing": 40
    }
  ],
  "spacing": 2
}
